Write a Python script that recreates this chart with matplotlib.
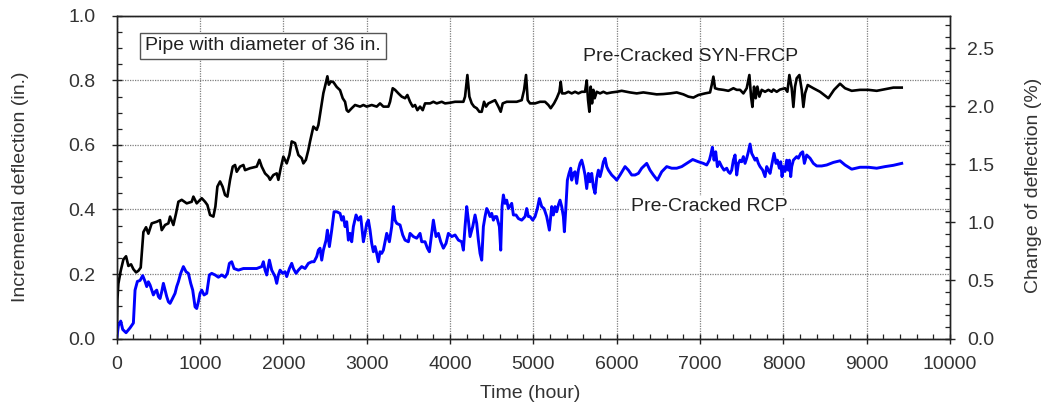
import matplotlib
matplotlib.use("Agg")
import matplotlib.pyplot as plt
from matplotlib.ticker import MultipleLocator, FormatStrFormatter

plt.rcParams['font.family'] = ['Liberation Sans', 'DejaVu Sans']

# ---- data: Pre-Cracked SYN-FRCP (black) ----
syn_t = [0, 8, 20, 48, 80, 112, 140, 172, 200, 232, 260, 288, 320, 352, 380, 420, 480, 520, 540, 580,
         620, 640, 680, 712, 740, 780, 840, 900, 920, 960, 1020, 1060, 1088, 1120, 1160, 1184, 1208, 1240,
         1270, 1300, 1328, 1360, 1392, 1420, 1440, 1480, 1520, 1540, 1600, 1680, 1712, 1740, 1780, 1820,
         1840, 1880, 1920, 1940, 1968, 2000, 2040, 2072, 2100, 2140, 2180, 2220, 2240, 2270, 2300, 2320,
         2360, 2400, 2420, 2448, 2480, 2500, 2528, 2545, 2570, 2600, 2640, 2680, 2712, 2740, 2760, 2780,
         2820, 2860, 2920, 2960, 3000, 3060, 3120, 3160, 3200, 3260, 3280, 3312, 3340, 3380, 3420, 3460,
         3488, 3520, 3552, 3580, 3608, 3640, 3672, 3700, 3760, 3800, 3840, 3900, 3940, 4000, 4060, 4120,
         4160, 4180, 4208, 4232, 4260, 4288, 4320, 4352, 4380, 4408, 4432, 4460, 4500, 4540, 4580, 4608,
         4632, 4680, 4740, 4800, 4860, 4888, 4912, 4932, 4960, 5020, 5080, 5140, 5180, 5208, 5248, 5280,
         5312, 5328, 5344, 5380, 5420, 5460, 5500, 5540, 5580, 5620, 5640, 5656, 5672, 5688, 5704, 5720,
         5736, 5760, 5800, 5840, 5880, 5940, 6000, 6060, 6160, 6240, 6320, 6400, 6480, 6560, 6640, 6720,
         6800, 6860, 6920, 6980, 7060, 7120, 7140, 7160, 7180, 7220, 7280, 7340, 7400, 7440, 7480, 7520,
         7560, 7592, 7612, 7628, 7648, 7668, 7688, 7712, 7740, 7780, 7820, 7860, 7880, 7920, 7960, 8020,
         8048, 8072, 8100, 8120, 8140, 8160, 8192, 8220, 8240, 8260, 8292, 8360, 8440, 8540, 8608, 8680,
         8740, 8820, 8920, 9020, 9120, 9220, 9320, 9420]
syn_v = [0.0, 0.12, 0.17, 0.21, 0.245, 0.255, 0.225, 0.23, 0.215, 0.205, 0.21, 0.22, 0.33, 0.345, 0.325,
         0.357, 0.362, 0.367, 0.336, 0.352, 0.357, 0.378, 0.352, 0.388, 0.424, 0.43, 0.419, 0.424, 0.44,
         0.419, 0.435, 0.424, 0.414, 0.383, 0.378, 0.409, 0.471, 0.487, 0.471, 0.445, 0.44, 0.492, 0.533,
         0.538, 0.517, 0.533, 0.538, 0.522, 0.528, 0.533, 0.554, 0.533, 0.512, 0.502, 0.492, 0.507, 0.512,
         0.492, 0.528, 0.564, 0.543, 0.569, 0.611, 0.606, 0.569, 0.559, 0.543, 0.554, 0.585, 0.611, 0.657,
         0.647, 0.662, 0.709, 0.761, 0.782, 0.813, 0.787, 0.797, 0.795, 0.78, 0.77, 0.745, 0.734, 0.708,
         0.703, 0.714, 0.724, 0.719, 0.724, 0.719, 0.724, 0.719, 0.729, 0.719, 0.719, 0.734, 0.776, 0.771,
         0.76, 0.75, 0.745, 0.755, 0.734, 0.719, 0.724, 0.708, 0.719, 0.708, 0.729, 0.729, 0.734, 0.729,
         0.734, 0.729, 0.731, 0.734, 0.734, 0.734, 0.75, 0.817, 0.75, 0.729, 0.719, 0.714, 0.703, 0.703,
         0.734, 0.719, 0.729, 0.734, 0.739, 0.719, 0.703, 0.729, 0.734, 0.734, 0.734, 0.739, 0.77, 0.817,
         0.739, 0.729, 0.729, 0.734, 0.734, 0.724, 0.714, 0.729, 0.745, 0.765, 0.796, 0.76, 0.76, 0.765,
         0.76, 0.765, 0.76, 0.765, 0.765, 0.8, 0.74, 0.703, 0.781, 0.729, 0.771, 0.745, 0.765, 0.76, 0.765,
         0.76, 0.763, 0.765, 0.768, 0.763, 0.76, 0.763, 0.76, 0.757, 0.758, 0.76, 0.763, 0.757, 0.75, 0.747,
         0.755, 0.76, 0.763, 0.786, 0.812, 0.776, 0.773, 0.771, 0.768, 0.776, 0.771, 0.771, 0.76, 0.776,
         0.817, 0.75, 0.718, 0.781, 0.745, 0.781, 0.75, 0.771, 0.765, 0.771, 0.765, 0.772, 0.765, 0.772,
         0.776, 0.765, 0.817, 0.776, 0.718, 0.781, 0.807, 0.817, 0.771, 0.718, 0.76, 0.786, 0.776, 0.765,
         0.745, 0.771, 0.79, 0.776, 0.768, 0.771, 0.771, 0.768, 0.773, 0.778, 0.778]

# ---- data: Pre-Cracked RCP (blue) ----
rcp_t = [0, 20, 48, 72, 112, 160, 200, 220, 248, 280, 312, 340, 360, 380, 400, 420, 440, 460, 480, 500,
         520, 540, 560, 580, 600, 620, 640, 660, 700, 720, 740, 768, 800, 832, 860, 888, 912, 940, 960, 980,
         1000, 1020, 1048, 1080, 1112, 1140, 1180, 1220, 1260, 1300, 1328, 1352, 1380, 1408, 1460, 1520,
         1600, 1680, 1740, 1760, 1780, 1800, 1832, 1860, 1880, 1900, 1920, 1940, 1960, 1992, 2020, 2040,
         2072, 2100, 2120, 2152, 2180, 2220, 2260, 2300, 2340, 2368, 2400, 2420, 2440, 2460, 2480, 2512,
         2528, 2552, 2580, 2608, 2640, 2680, 2700, 2720, 2740, 2760, 2780, 2800, 2820, 2840, 2872, 2900,
         2928, 2960, 2980, 3000, 3020, 3040, 3060, 3080, 3100, 3120, 3140, 3160, 3180, 3200, 3220, 3240,
         3272, 3300, 3320, 3340, 3360, 3400, 3432, 3460, 3500, 3520, 3560, 3600, 3640, 3660, 3700, 3728,
         3752, 3780, 3800, 3832, 3860, 3888, 3920, 3952, 3980, 4020, 4060, 4100, 4140, 4160, 4180, 4200,
         4220, 4240, 4272, 4300, 4320, 4340, 4360, 4380, 4400, 4420, 4440, 4460, 4480, 4500, 4520, 4540,
         4560, 4592, 4608, 4624, 4640, 4660, 4680, 4700, 4740, 4760, 4792, 4820, 4860, 4900, 4920, 4940,
         4960, 4992, 5020, 5048, 5072, 5100, 5128, 5160, 5192, 5220, 5240, 5260, 5280, 5300, 5320, 5340,
         5360, 5372, 5388, 5408, 5428, 5448, 5460, 5480, 5500, 5520, 5540, 5560, 5580, 5600, 5620, 5640,
         5660, 5680, 5700, 5720, 5740, 5760, 5780, 5800, 5820, 5840, 5860, 5880, 5900, 5940, 5980, 6000,
         6040, 6100, 6140, 6180, 6220, 6260, 6300, 6360, 6400, 6440, 6488, 6540, 6600, 6660, 6720, 6780,
         6840, 6912, 6980, 7040, 7080, 7112, 7128, 7148, 7168, 7188, 7208, 7232, 7260, 7288, 7320, 7340,
         7360, 7380, 7400, 7420, 7440, 7460, 7480, 7500, 7520, 7540, 7560, 7580, 7600, 7620, 7640, 7660,
         7680, 7700, 7720, 7752, 7780, 7800, 7820, 7840, 7860, 7888, 7912, 7928, 7952, 7968, 7984, 8000,
         8020, 8040, 8060, 8072, 8088, 8100, 8120, 8160, 8180, 8208, 8232, 8252, 8280, 8320, 8360, 8400,
         8460, 8520, 8600, 8680, 8740, 8820, 8920, 9020, 9120, 9220, 9320, 9420]
rcp_v = [0.0, 0.04, 0.054, 0.028, 0.018, 0.033, 0.048, 0.15, 0.177, 0.18, 0.195, 0.177, 0.161, 0.176,
         0.166, 0.15, 0.135, 0.145, 0.15, 0.13, 0.124, 0.145, 0.171, 0.15, 0.13, 0.114, 0.109, 0.119, 0.14,
         0.161, 0.176, 0.202, 0.223, 0.207, 0.202, 0.171, 0.15, 0.098, 0.093, 0.114, 0.14, 0.15, 0.135,
         0.14, 0.197, 0.202, 0.197, 0.19, 0.197, 0.19, 0.202, 0.233, 0.238, 0.217, 0.212, 0.217, 0.217,
         0.217, 0.223, 0.238, 0.212, 0.197, 0.243, 0.212, 0.202, 0.192, 0.171, 0.197, 0.212, 0.202, 0.207,
         0.192, 0.217, 0.233, 0.217, 0.202, 0.212, 0.223, 0.217, 0.233, 0.238, 0.238, 0.254, 0.274, 0.28,
         0.243, 0.274, 0.305, 0.336, 0.285, 0.336, 0.393, 0.393, 0.388, 0.367, 0.378, 0.347, 0.362, 0.305,
         0.326, 0.3, 0.347, 0.383, 0.367, 0.378, 0.3, 0.326, 0.357, 0.367, 0.336, 0.295, 0.269, 0.285,
         0.264, 0.238, 0.269, 0.264, 0.274, 0.3, 0.326, 0.3, 0.347, 0.409, 0.367, 0.357, 0.352, 0.321,
         0.305, 0.3, 0.326, 0.316, 0.311, 0.326, 0.3, 0.3, 0.28, 0.269, 0.326, 0.367, 0.316, 0.326, 0.3,
         0.28, 0.295, 0.326, 0.316, 0.321, 0.305, 0.3, 0.274, 0.347, 0.409, 0.367, 0.316, 0.347, 0.383,
         0.357, 0.305, 0.264, 0.243, 0.347, 0.378, 0.403, 0.393, 0.378, 0.388, 0.367, 0.378, 0.378, 0.347,
         0.274, 0.409, 0.445, 0.419, 0.429, 0.403, 0.419, 0.383, 0.383, 0.372, 0.367, 0.378, 0.403, 0.378,
         0.378, 0.367, 0.378, 0.403, 0.434, 0.409, 0.403, 0.378, 0.336, 0.409, 0.383, 0.409, 0.393, 0.414,
         0.429, 0.409, 0.378, 0.331, 0.398, 0.491, 0.512, 0.528, 0.491, 0.512, 0.517, 0.481, 0.522, 0.543,
         0.553, 0.533, 0.507, 0.465, 0.512, 0.486, 0.512, 0.47, 0.45, 0.497, 0.522, 0.502, 0.522, 0.548,
         0.559, 0.533, 0.522, 0.507, 0.497, 0.491, 0.507, 0.533, 0.522, 0.507, 0.507, 0.512, 0.528, 0.543,
         0.522, 0.507, 0.491, 0.517, 0.533, 0.528, 0.528, 0.533, 0.543, 0.555, 0.548, 0.543, 0.538, 0.553,
         0.569, 0.593, 0.553, 0.579, 0.533, 0.548, 0.533, 0.522, 0.528, 0.517, 0.512, 0.522, 0.553, 0.569,
         0.507, 0.543, 0.553, 0.548, 0.564, 0.543, 0.559, 0.579, 0.603, 0.574, 0.564, 0.553, 0.559, 0.543,
         0.533, 0.522, 0.502, 0.533, 0.522, 0.512, 0.538, 0.574, 0.543, 0.553, 0.528, 0.548, 0.502, 0.533,
         0.518, 0.553, 0.522, 0.553, 0.502, 0.533, 0.553, 0.564, 0.559, 0.574, 0.579, 0.543, 0.569, 0.559,
         0.543, 0.535, 0.535, 0.538, 0.546, 0.551, 0.538, 0.525, 0.531, 0.531, 0.528, 0.533, 0.537, 0.543]

pipe_diameter = 36.0  # in.
x_ticks = [0, 1000, 2000, 3000, 4000, 5000, 6000, 7000, 8000, 9000, 10000]
y_ticks = [0.0, 0.2, 0.4, 0.6, 0.8, 1.0]
y2_ticks = [0.0, 0.5, 1.0, 1.5, 2.0, 2.5]

FS = 14
TXT = '#333333'

fig = plt.figure(figsize=(10.44, 4.07), dpi=100)
ax = fig.add_axes([0.1118, 0.1683, 0.7982, 0.7924])

ax.plot(syn_t, syn_v, color='black', lw=1.9, zorder=3)
ax.plot(rcp_t, rcp_v, color='#0000FF', lw=2.1, zorder=3)

ax.set_xlim(0, 10000)
ax.set_ylim(0, 1.0)
ax.set_xticks(x_ticks)
ax.set_yticks(y_ticks)
ax.xaxis.set_minor_locator(MultipleLocator(200))
ax.yaxis.set_minor_locator(MultipleLocator(0.05))
ax.yaxis.set_major_formatter(FormatStrFormatter('%.1f'))
ax.grid(True, which='major', linestyle=(0, (1, 1)), color='#7f7f7f', linewidth=0.9)
ax.set_axisbelow(True)

ax.tick_params(which='major', direction='inout', length=7, width=1.0, labelsize=FS, colors='#222222',
               labelcolor=TXT)
ax.tick_params(which='minor', direction='in', length=3.5, width=0.9, colors='#222222')
ax.tick_params(axis='x', top=False, which='both')
ax.tick_params(axis='x', which='major', pad=9)
ax.tick_params(axis='y', which='major', pad=12)

for s in ax.spines.values():
    s.set_linewidth(1.0)
    s.set_color('#222222')

ax.set_xlabel('Time (hour)', fontsize=FS, color=TXT)
ax.xaxis.set_label_coords(0.496, -0.169)
ax.xaxis.label.set_va('center')
ax.set_ylabel('Incremental deflection (in.)', fontsize=FS, color=TXT)
ax.yaxis.set_label_coords(-0.115, 0.47)
ax.yaxis.label.set_va('center')

ax2 = ax.twinx()
ax2.set_ylim(0, 1.0 / pipe_diameter * 100)
ax2.set_yticks(y2_ticks)
ax2.yaxis.set_minor_locator(MultipleLocator(0.1))
ax2.yaxis.set_major_formatter(FormatStrFormatter('%.1f'))
ax2.tick_params(which='major', direction='inout', length=7, width=1.0, labelsize=FS, colors='#222222',
                labelcolor=TXT, pad=9)
ax2.tick_params(which='minor', direction='in', length=3.5, width=0.9, colors='#222222')
ax2.set_ylabel('Change of deflection (%)', fontsize=FS, color=TXT)
ax2.yaxis.set_label_coords(1.100, 0.476)
ax2.yaxis.label.set_va('center')
for s in ax2.spines.values():
    s.set_linewidth(1.0)
    s.set_color('#222222')

ax.text(0.034, 0.907, 'Pipe with diameter of 36 in.', transform=ax.transAxes, fontsize=FS,
        color='#222222', va='center', ha='left', zorder=5,
        bbox=dict(boxstyle='square,pad=0.25', facecolor='white', edgecolor='#555555', linewidth=1.0))
ax.text(5596, 0.873, 'Pre-Cracked SYN-FRCP', fontsize=FS, color='#222222', va='center', ha='left', zorder=5)
ax.text(6172, 0.408, 'Pre-Cracked RCP', fontsize=FS, color='#222222', va='center', ha='left', zorder=5,
        bbox=dict(boxstyle='square,pad=0.1', facecolor='white', edgecolor='none'))

fig.savefig('out.png', dpi=100)
